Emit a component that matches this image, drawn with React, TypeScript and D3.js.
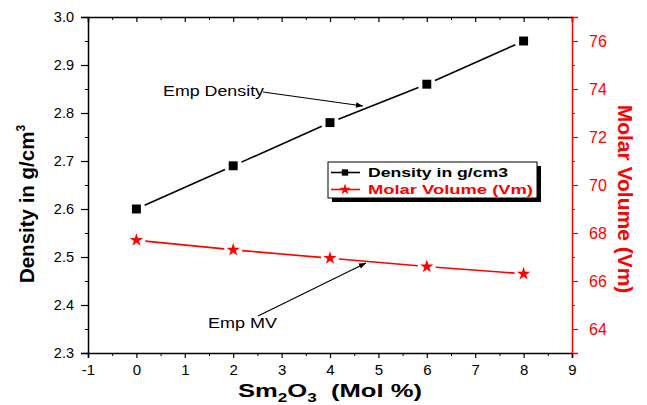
import { useEffect, useRef } from 'react';
import * as d3 from 'd3';

// Sm2O3 content (mol %)
const SM2O3 = [0, 2, 4, 6, 8];
// density in g/cm3
const DENSITY = [2.6, 2.69, 2.78, 2.86, 2.95];
// molar volume (Vm)
const MOLAR_VOLUME = [67.7, 67.3, 66.95, 66.6, 66.3];

const X_TICKS = [-1, 0, 1, 2, 3, 4, 5, 6, 7, 8, 9];
const LEFT_TICKS = [2.3, 2.4, 2.5, 2.6, 2.7, 2.8, 2.9, 3.0];
const RIGHT_TICKS = [64, 66, 68, 70, 72, 74, 76];

const RED = '#ff0000';
const FONT = '"Liberation Sans", Arial, sans-serif';

const W = 647;
const H = 405;

export default function App() {
    const svgRef = useRef<SVGSVGElement | null>(null);

    useEffect(() => {
        if (!svgRef.current) return;
        const svg = d3.select(svgRef.current);
        svg.selectAll('*').remove();

        const left = 88, right = 572, top = 17, bottom = 353;

        const x = d3.scaleLinear().domain([-1, 9]).range([left, right]);
        const y = d3.scaleLinear().domain([2.3, 3.0]).range([bottom, top]);
        const y2 = d3.scaleLinear().domain([63, 77]).range([bottom, top]);

        svg.append('defs').append('marker')
            .attr('id', 'arrow')
            .attr('viewBox', '0 0 10 10')
            .attr('refX', 10).attr('refY', 5)
            .attr('markerWidth', 9).attr('markerHeight', 7)
            .attr('markerUnits', 'userSpaceOnUse')
            .attr('orient', 'auto')
            .append('path')
            .attr('d', 'M0,1 L10,5 L0,9 Z')
            .attr('fill', '#000');

        // bottom axis (plain hyphen for negatives, as in the original)
        const xAxis = svg.append('g').attr('transform', `translate(0,${bottom})`)
            .call(d3.axisBottom(x).tickValues(X_TICKS).tickSize(5).tickPadding(6).tickFormat(d => String(d)));
        xAxis.select('.domain').attr('stroke', '#000').attr('stroke-width', 1.5);
        xAxis.selectAll('.tick line').attr('stroke', '#000').attr('stroke-width', 1.2);
        xAxis.selectAll('text').style('font-family', FONT).style('font-size', '15px').attr('fill', '#000');
        svg.append('g').attr('transform', `translate(0,${bottom})`)
            .call(d3.axisBottom(x).tickValues(d3.range(-0.5, 9, 1)).tickSize(3).tickFormat(() => ''))
            .call(g => g.select('.domain').remove())
            .selectAll('line').attr('stroke', '#000');

        // top axis (mirror, ticks inward)
        const topAxis = svg.append('g').attr('transform', `translate(0,${top})`)
            .call(d3.axisTop(x).tickValues(X_TICKS).tickSize(-5).tickFormat(() => ''));
        topAxis.select('.domain').attr('stroke', '#000').attr('stroke-width', 1.5);
        topAxis.selectAll('line').attr('stroke', '#000').attr('stroke-width', 1.2);
        svg.append('g').attr('transform', `translate(0,${top})`)
            .call(d3.axisTop(x).tickValues(d3.range(-0.5, 9, 1)).tickSize(-3).tickFormat(() => ''))
            .call(g => g.select('.domain').remove())
            .selectAll('line').attr('stroke', '#000');

        // left axis
        const yAxis = svg.append('g').attr('transform', `translate(${left},0)`)
            .call(d3.axisLeft(y).tickValues(LEFT_TICKS).tickSize(7).tickPadding(7).tickFormat(d3.format('.1f')));
        yAxis.select('.domain').attr('stroke', '#000').attr('stroke-width', 1.5);
        yAxis.selectAll('.tick line').attr('stroke', '#000').attr('stroke-width', 1.2);
        yAxis.selectAll('text').style('font-family', FONT).style('font-size', '14.5px').attr('fill', '#000');
        svg.append('g').attr('transform', `translate(${left},0)`)
            .call(d3.axisLeft(y).tickValues(d3.range(2.35, 3.0, 0.1)).tickSize(3).tickFormat(() => ''))
            .call(g => g.select('.domain').remove())
            .selectAll('line').attr('stroke', '#000');

        // right axis (molar volume)
        const y2Axis = svg.append('g').attr('transform', `translate(${right},0)`)
            .call(d3.axisRight(y2).tickValues(RIGHT_TICKS).tickSize(6).tickPadding(11).tickFormat(d3.format('d')));
        y2Axis.select('.domain').attr('stroke', RED).attr('stroke-width', 1.5);
        y2Axis.selectAll('.tick line').attr('stroke', RED).attr('stroke-width', 1.2);
        y2Axis.selectAll('text').style('font-family', FONT).style('font-size', '16px').attr('fill', RED);
        svg.append('g').attr('transform', `translate(${right},0)`)
            .call(d3.axisRight(y2).tickValues(d3.range(63, 77, 2)).tickSize(3).tickFormat(() => ''))
            .call(g => g.select('.domain').remove())
            .selectAll('line').attr('stroke', RED);

        // lines with gaps around markers
        const drawSeries = (ys: number[], scale: d3.ScaleLinear<number, number>, color: string, gap: number) => {
            for (let i = 0; i < SM2O3.length - 1; i++) {
                const x1 = x(SM2O3[i]), y1 = scale(ys[i]);
                const x2 = x(SM2O3[i + 1]), y2v = scale(ys[i + 1]);
                const len = Math.hypot(x2 - x1, y2v - y1);
                const ux = (x2 - x1) / len, uy = (y2v - y1) / len;
                svg.append('line')
                    .attr('x1', x1 + ux * gap).attr('y1', y1 + uy * gap)
                    .attr('x2', x2 - ux * gap).attr('y2', y2v - uy * gap)
                    .attr('stroke', color).attr('stroke-width', 1.6);
            }
        };
        drawSeries(DENSITY, y, '#000', 9);
        drawSeries(MOLAR_VOLUME, y2, RED, 9);

        svg.selectAll('path.sq').data(SM2O3).join('path')
            .attr('class', 'sq')
            .attr('transform', (d, i) => `translate(${x(d)},${y(DENSITY[i])})`)
            .attr('d', d3.symbol(d3.symbolSquare, 80)())
            .attr('fill', '#000');

        svg.selectAll('path.star').data(SM2O3).join('path')
            .attr('class', 'star')
            .attr('transform', (d, i) => `translate(${x(d)},${y2(MOLAR_VOLUME[i])})`)
            .attr('d', d3.symbol(d3.symbolStar, 55)())
            .attr('fill', RED);

        // annotations
        svg.append('text').attr('x', 163).attr('y', 96)
            .attr('textLength', 101).attr('lengthAdjust', 'spacingAndGlyphs')
            .style('font-family', FONT).style('font-size', '14px').text('Emp Density');
        svg.append('line').attr('x1', 263).attr('y1', 92).attr('x2', 363).attr('y2', 106)
            .attr('stroke', '#000').attr('stroke-width', 1.2).attr('marker-end', 'url(#arrow)');

        svg.append('text').attr('x', 208).attr('y', 328)
            .attr('textLength', 69).attr('lengthAdjust', 'spacingAndGlyphs')
            .style('font-family', FONT).style('font-size', '14px').text('Emp MV');
        svg.append('line').attr('x1', 258).attr('y1', 316).attr('x2', 366).attr('y2', 263)
            .attr('stroke', '#000').attr('stroke-width', 1.2).attr('marker-end', 'url(#arrow)');

        // legend
        const lg = svg.append('g').attr('transform', 'translate(328,162)');
        lg.append('rect').attr('x', 4).attr('y', 4).attr('width', 209).attr('height', 36).attr('fill', '#000');
        lg.append('rect').attr('x', 0).attr('y', 0).attr('width', 209).attr('height', 36)
            .attr('fill', '#fff').attr('stroke', '#000').attr('stroke-width', 1);
        const items = [
            { label: 'Density in g/cm3', color: '#000', sym: d3.symbolSquare, size: 40, len: 140 },
            { label: 'Molar Volume (Vm)', color: RED, sym: d3.symbolStar, size: 40, len: 165 },
        ];
        items.forEach((it, i) => {
            const base = 15 + i * 17;
            const cy = base - 4.5;
            lg.append('line').attr('x1', 3).attr('x2', 32).attr('y1', cy).attr('y2', cy)
                .attr('stroke', it.color).attr('stroke-width', 1.6);
            lg.append('path').attr('transform', `translate(17,${cy})`)
                .attr('d', d3.symbol(it.sym, it.size)()).attr('fill', it.color);
            lg.append('text').attr('x', 40).attr('y', base)
                .attr('textLength', it.len).attr('lengthAdjust', 'spacingAndGlyphs')
                .style('font-family', FONT).style('font-size', '13px').style('font-weight', 'bold')
                .attr('fill', it.color).text(it.label);
        });

        // axis titles
        const yt = svg.append('text')
            .attr('transform', `translate(34,204) rotate(-90)`)
            .attr('text-anchor', 'middle')
            .style('font-family', FONT).style('font-size', '20.5px').style('font-weight', 'bold');
        yt.append('tspan').text('Density in g/cm');
        yt.append('tspan').attr('dy', -9).style('font-size', '12px').text('3');

        svg.append('text')
            .attr('transform', `translate(618,199) rotate(90)`)
            .attr('text-anchor', 'middle')
            .attr('fill', RED)
            .style('font-family', FONT).style('font-size', '21px').style('font-weight', 'bold')
            .text('Molar Volume (Vm)');

        const xt = svg.append('text')
            .attr('x', 238).attr('y', 397)
            .attr('textLength', 184).attr('lengthAdjust', 'spacingAndGlyphs')
            .style('font-family', FONT).style('font-size', '18px').style('font-weight', 'bold');
        xt.append('tspan').text('Sm');
        xt.append('tspan').attr('dy', 5).style('font-size', '12px').text('2');
        xt.append('tspan').attr('dy', -5).text('O');
        xt.append('tspan').attr('dy', 5).style('font-size', '12px').text('3');
        xt.append('tspan').attr('dy', -5).text('\u00a0\u00a0(Mol %)');
    }, []);

    return (
        <svg ref={svgRef} width={W} height={H}
            style={{ position: 'absolute', left: 0, top: 0, background: '#fff' }} />
    );
}
